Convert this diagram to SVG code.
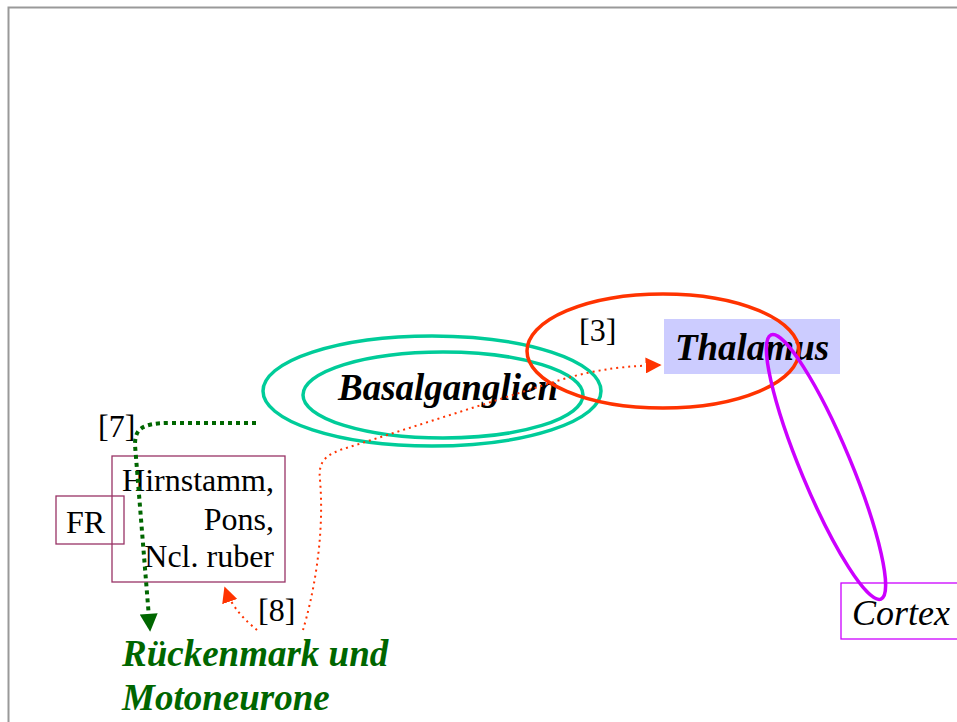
<svg xmlns="http://www.w3.org/2000/svg" width="957" height="722" viewBox="0 0 957 722">
<defs>
<style>
.t{font-family:"Liberation Serif","Times New Roman",serif;fill:#000}
.n{font-size:32px}
.bi{font-size:37px;font-weight:bold;font-style:italic}
.box{fill:none;stroke:#993366;stroke-width:1.3}
</style>
<marker id="ag" viewBox="0 0 10 10" refX="9" refY="5" markerWidth="5" markerHeight="4.5" orient="auto" markerUnits="strokeWidth"><path d="M0,0 L10,5 L0,10 z" fill="#006600"/></marker>
<marker id="ar" viewBox="0 0 10 10" refX="9" refY="5" markerWidth="8" markerHeight="8" orient="auto" markerUnits="strokeWidth"><path d="M0,0 L10,5 L0,10 z" fill="#ff3300"/></marker>
</defs>
<rect width="957" height="722" fill="#fff"/>
<path d="M8.5,722 V7.5 H957" fill="none" stroke="#999" stroke-width="2"/>

<g id="basalganglien">
<ellipse cx="432" cy="391" rx="169" ry="55" fill="none" stroke="#00cc99" stroke-width="3.5"/>
<ellipse cx="443" cy="395" rx="140" ry="43" fill="none" stroke="#00cc99" stroke-width="3.5"/>
<text class="t bi" x="338" y="400">Basalganglien</text>
</g>

<g id="thalamus">
<rect x="664" y="319" width="176" height="55" fill="#ccccff"/>
<text class="t bi" x="752" y="360" text-anchor="middle">Thalamus</text>
<ellipse cx="663" cy="351" rx="136" ry="57" fill="none" stroke="#ff3300" stroke-width="3.5"/>
</g>

<g id="cortex">
<ellipse cx="826" cy="467" rx="143" ry="25" transform="rotate(67.4 826 467)" fill="none" stroke="#cc00ff" stroke-width="3.5"/>
<rect x="841" y="583" width="120" height="56" fill="none" stroke="#cc00ff" stroke-width="1.3"/>
<text class="t" x="852" y="625" font-size="36" font-style="italic">Cortex</text>
</g>

<g id="hirnstamm">
<rect class="box" x="112" y="456" width="173" height="126"/>
<text class="t n" text-anchor="end"><tspan x="274" y="491">Hirnstamm,</tspan><tspan x="274" y="530">Pons,</tspan><tspan x="274" y="567">Ncl. ruber</tspan></text>
</g>

<g id="fr">
<rect class="box" x="56" y="496" width="68" height="48"/>
<text class="t n" x="66" y="533">FR</text>
</g>

<g id="rueckenmark">
<text class="t bi" style="fill:#006600"><tspan x="122" y="666">Rückenmark und</tspan><tspan x="122" y="710">Motoneurone</tspan></text>
</g>

<g id="connectors">
<path d="M256,423 L170,423 C140,423 135,430 135,445 L150,630" fill="none" stroke="#006600" stroke-width="4" stroke-dasharray="4 4" marker-end="url(#ag)"/>
<path d="M303,630 C312,600 325,540 320,480 C318,462 325,456 340,450 L560,380 C600,368 630,366 660,365" fill="none" stroke="#ff3300" stroke-width="2" stroke-dasharray="2 4" marker-end="url(#ar)"/>
<path d="M257,630 C245,620 232,608 225,588" fill="none" stroke="#ff3300" stroke-width="2" stroke-dasharray="2 4" marker-end="url(#ar)"/>
<text class="t n" x="98" y="437">[7]</text>
<text class="t n" x="258" y="621">[8]</text>
<text class="t n" x="579" y="341">[3]</text>
</g>
</svg>
